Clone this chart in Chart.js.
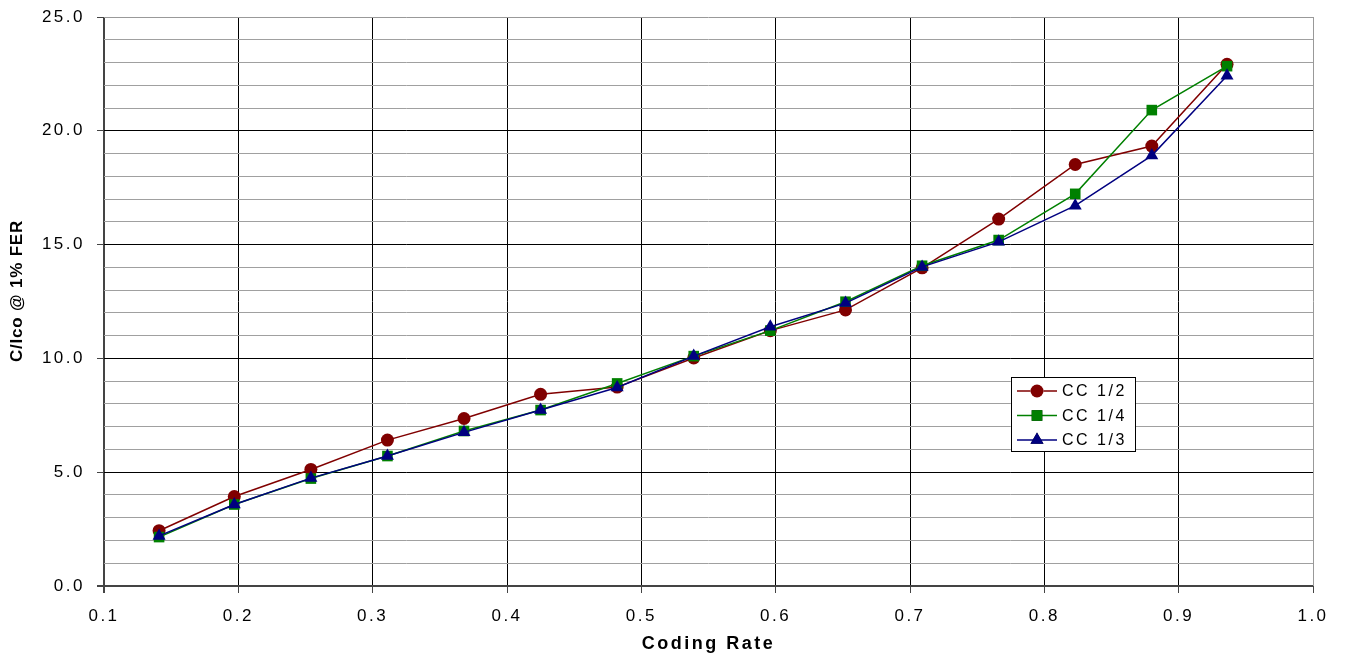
<!DOCTYPE html>
<html>
<head>
<meta charset="utf-8">
<script src="https://cdn.jsdelivr.net/npm/chart.js@4/dist/chart.umd.min.js"></script>
<style>
  html, body { margin: 0; padding: 0; background: #fff; }
  #wrap { width: 1345px; height: 657px; }
</style>
</head>
<body>
<div id="wrap"><canvas id="myChart" width="1345" height="657"></canvas></div>
<script>
//Data
let codingRate = [0.141, 0.197, 0.254, 0.311, 0.368, 0.425, 0.482, 0.539, 0.596, 0.652, 0.709, 0.766, 0.823, 0.880, 0.936];
let cc12 = [2.43, 3.93, 5.12, 6.41, 7.36, 8.42, 8.74, 10.02, 11.22, 12.13, 13.98, 16.12, 18.52, 19.33, 22.92];
let cc14 = [2.15, 3.58, 4.72, 5.71, 6.81, 7.73, 8.90, 10.10, 11.22, 12.49, 14.07, 15.20, 17.23, 20.91, 22.84];
let cc13 = [2.20, 3.58, 4.74, 5.71, 6.75, 7.73, 8.72, 10.10, 11.39, 12.43, 14.02, 15.12, 16.71, 18.91, 22.42];
let seriesNames = ['CC 1/2', 'CC 1/4', 'CC 1/3'];
let yTitle = 'C/Ico @ 1% FER';

const FONT = "'Liberation Sans', Arial, sans-serif";
const SPACING = '2.5px';

function pts(vals) {
  return vals.map((v, i) => ({x: codingRate[i], y: v}));
}

// letter spacing like the original (wide Arial)
const spacingPlugin = {
  id: 'spacing',
  beforeInit(chart) { chart.ctx.letterSpacing = SPACING; },
  beforeUpdate(chart) { chart.ctx.letterSpacing = SPACING; },
  beforeDraw(chart) { chart.ctx.letterSpacing = SPACING; }
};

// y title, a bit above the middle like the original
const yTitlePlugin = {
  id: 'yTitle',
  afterDraw(chart) {
    const ctx = chart.ctx;
    ctx.save();
    ctx.translate(17, 291);
    ctx.rotate(-Math.PI / 2);
    ctx.font = 'bold 17px ' + FONT;
    ctx.letterSpacing = '0.8px';
    ctx.fillStyle = '#000';
    ctx.textAlign = 'center';
    ctx.textBaseline = 'middle';
    ctx.fillText(yTitle, 0, 0);
    ctx.restore();
  }
};

// legend box sitting inside the plot
const boxLegend = {
  id: 'boxLegend',
  afterDraw(chart) {
    const ctx = chart.ctx;
    const x0 = 1011, y0 = 377, w = 124, h = 74;
    ctx.save();
    ctx.fillStyle = '#fff';
    ctx.fillRect(x0, y0, w, h);
    ctx.strokeStyle = '#000';
    ctx.lineWidth = 1;
    ctx.strokeRect(x0 + 0.5, y0 + 0.5, w, h);
    [0, 1, 2].forEach((k, r) => {
      const ds = chart.data.datasets[k];
      const y = y0 + 14 + r * 24.5;
      ctx.strokeStyle = ds.borderColor;
      ctx.lineWidth = 1.5;
      ctx.beginPath();
      ctx.moveTo(x0 + 6, y);
      ctx.lineTo(x0 + 46, y);
      ctx.stroke();
      Chart.helpers.drawPoint(ctx, {
        pointStyle: ds.pointStyle, radius: ds.pointRadius, rotation: 0, borderWidth: 0
      }, x0 + 26, y);
      ctx.fillStyle = ds.backgroundColor;
      ctx.fill();
      ctx.fillStyle = '#000';
      ctx.font = '16px ' + FONT;
      ctx.letterSpacing = SPACING;
      ctx.textAlign = 'left';
      ctx.textBaseline = 'middle';
      ctx.fillText(ds.label, x0 + 51, y + 1);
    });
    ctx.restore();
  }
};

var ctx = document.getElementById('myChart').getContext('2d');
var myChart = new Chart(ctx, {
  type: 'line',
  data: {
    datasets: [{
      label: seriesNames[0],
      data: pts(cc12),
      borderColor: '#800000',
      backgroundColor: '#800000',
      pointStyle: 'circle',
      pointRadius: 6.5,
      order: 3
    }, {
      label: seriesNames[1],
      data: pts(cc14),
      borderColor: '#008000',
      backgroundColor: '#008000',
      pointStyle: 'rect',
      pointRadius: 7.5,
      order: 2
    }, {
      label: seriesNames[2],
      data: pts(cc13),
      borderColor: '#000080',
      backgroundColor: '#000080',
      pointStyle: 'triangle',
      pointRadius: 7.5,
      order: 1
    }]
  },
  options: {
    responsive: false,
    animation: false,
    layout: { padding: { top: 17, right: 32, left: 0, bottom: 0 } },
    elements: {
      line: { borderWidth: 1.5, tension: 0, fill: false },
      point: { borderWidth: 0, hoverRadius: 6 }
    },
    plugins: {
      legend: { display: false },
      tooltip: { enabled: false }
    },
    scales: {
      x: {
        type: 'linear',
        min: 0.1,
        max: 1.0,
        afterFit(scale) { scale.height = 71; },
        ticks: {
          stepSize: 0.1,
          autoSkip: false,
          maxRotation: 0,
          padding: 13,
          color: '#000',
          font: { family: FONT, size: 17 },
          callback: v => v.toFixed(1)
        },
        grid: {
          tickLength: 7,
          color: c => {
            const v = Math.round(c.tick.value * 10);
            if (v === 1) return '#444';
            if (v === 10) return '#999';
            return '#000';
          },
          lineWidth: c => Math.round(c.tick.value * 10) === 1 ? 2 : 1,
          tickColor: '#444'
        },
        border: { display: false },
        title: {
          display: true,
          text: 'Coding Rate',
          color: '#000',
          font: { family: FONT, size: 18, weight: 'bold' },
          padding: { top: 2, bottom: 2 }
        }
      },
      y: {
        min: 0,
        max: 25,
        afterFit(scale) { scale.width = 104; scale.paddingTop = 0; scale.paddingBottom = 0; },
        ticks: {
          stepSize: 1,
          autoSkip: false,
          padding: 12,
          color: '#000',
          font: { family: FONT, size: 17 },
          callback: v => (v % 5 === 0 ? v.toFixed(1) : '')
        },
        grid: {
          tickLength: 7,
          color: c => {
            const v = Math.round(c.tick.value);
            if (v === 0) return '#444';
            if (v === 25) return '#999';
            if (v % 5 === 0) return '#000';
            return '#a0a0a0';
          },
          lineWidth: c => Math.round(c.tick.value) === 0 ? 2 : 1,
          tickColor: c => (Math.round(c.tick.value) % 5 === 0 ? '#444' : 'rgba(0,0,0,0)')
        },
        border: { display: false },
        title: { display: false }
      }
    }
  },
  plugins: [spacingPlugin, yTitlePlugin, boxLegend]
});
</script>
</body>
</html>
